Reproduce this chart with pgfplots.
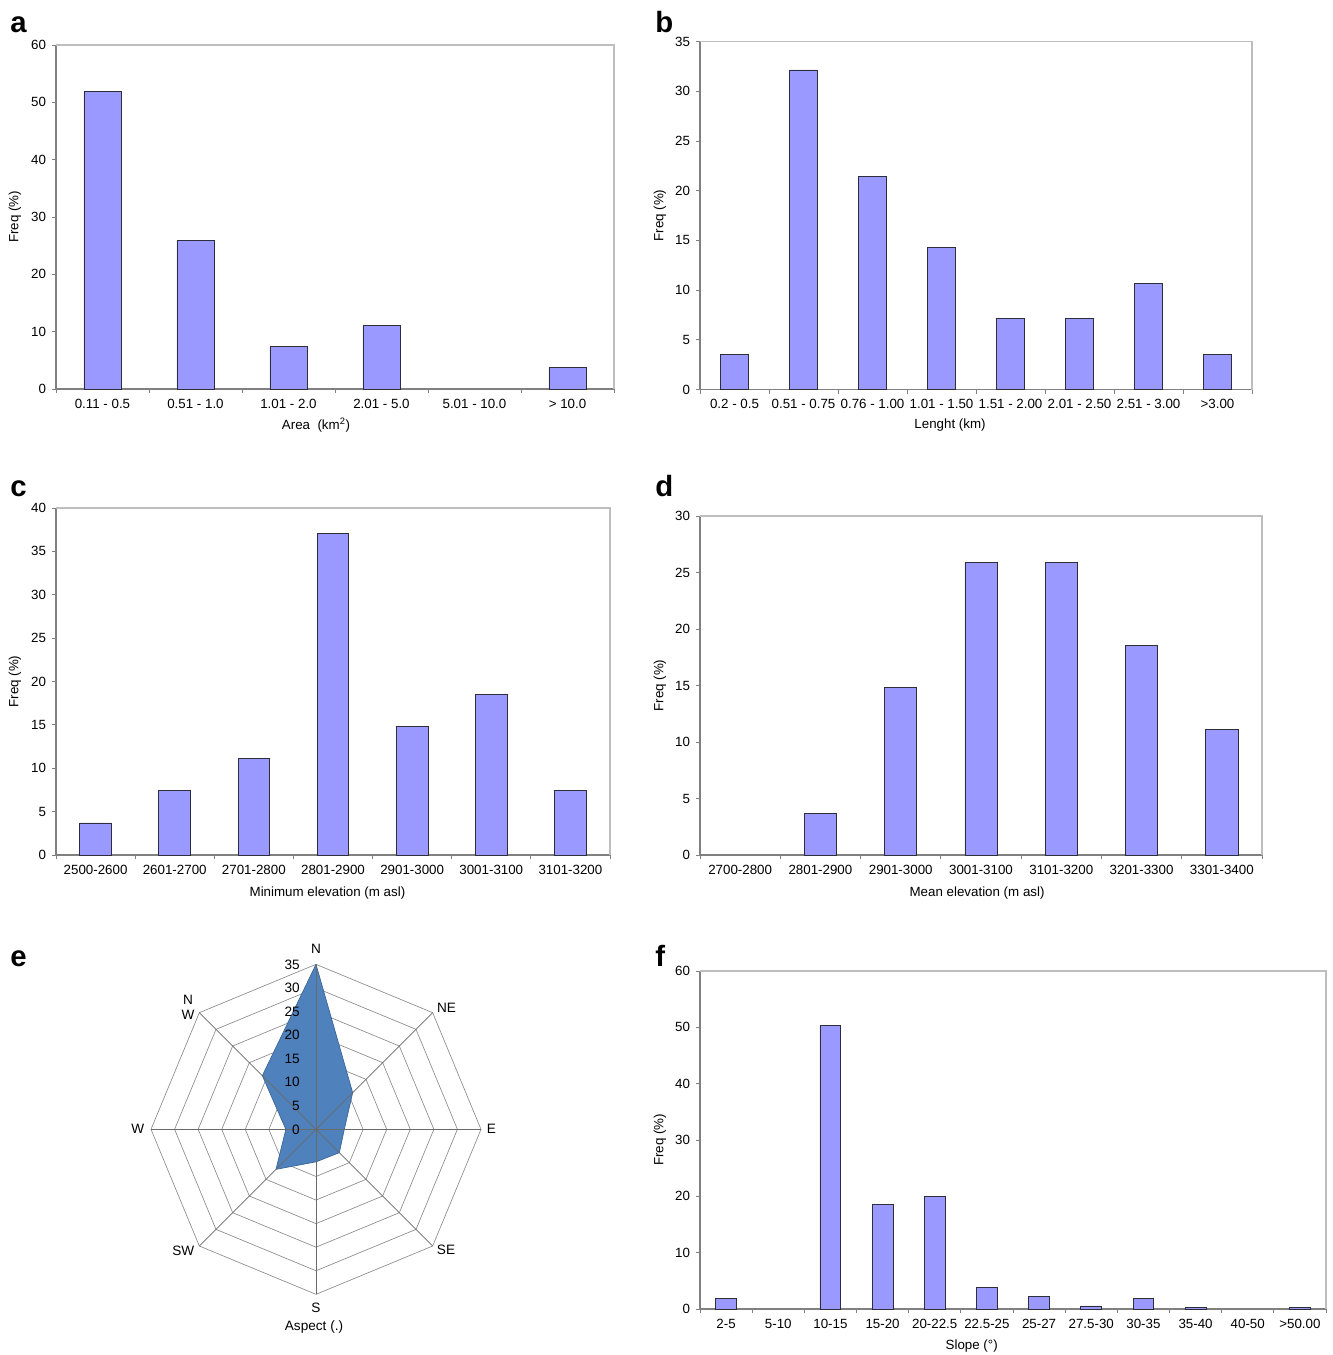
\documentclass[border=0pt]{standalone}
\usepackage{fontspec}
\setmainfont{Liberation Sans}
\usepackage{pgfplots}
\pgfplotsset{compat=1.18}
\usepgfplotslibrary{polar}
\definecolor{barfill}{HTML}{9999FF}
\definecolor{bardraw}{HTML}{2E2E3A}
\definecolor{axgray}{HTML}{808080}
\definecolor{bordergray}{HTML}{BEBEBE}
\definecolor{radarfill}{HTML}{4F81BD}
\definecolor{radardraw}{HTML}{3A6496}
\definecolor{ringgray}{HTML}{8C8C8C}
\definecolor{spokegray}{HTML}{6A6A6A}
\newcommand{\tfont}{\fontsize{10}{11.5}\selectfont}
\pgfplotsset{
  histo/.style={
    scale only axis,
    anchor=south west,
    ybar, bar width=0.4,
    ymin=0, xmin=-0.5,
    enlargelimits=false,
    axis x line*=bottom, axis y line*=left,
    axis line style={-, axgray, line width=0.8pt},
    tick align=outside,
    tick style={axgray, line width=0.6pt},
    major x tick style={draw=none},
    major tick length=3pt,
    minor tick length=3pt,
    tick label style={font=\tfont},
    label style={font=\tfont},
    /pgf/number format/assume math mode=true,
    xticklabel style={yshift=-1pt},
    yticklabel style={xshift=-1pt},
    extra description/.code={\draw[bordergray, line width=0.8pt] (axis description cs:0,1) -- (axis description cs:1,1) -- (axis description cs:1,0);},
    ylabel={Freq (\%)},
  },
  bars/.style={fill=barfill, draw=bardraw, line width=0.6pt},
}
\begin{document}
\begin{tikzpicture}
\path[use as bounding box] (0,0) rectangle (999.75pt,-1016.25pt);

% ---- a ---- (5.01 - 10.0 has 0 %, no bar drawn)
\begin{axis}[histo, at={(42pt,-291.75pt)}, width=418.5pt, height=258pt,
  xmax=5.5, ymax=60, ytick={0,10,...,60},
  xtick={0,...,5}, minor xtick={-0.5,0.5,...,5.5},
  xticklabels={0.11 - 0.5, 0.51 - 1.0, 1.01 - 2.0, 2.01 - 5.0, 5.01 - 10.0, > 10.0},
  xlabel={Area\ \ (km\textsuperscript{2})},
  xlabel style={at={(axis description cs:0.466,-0.1047)}, anchor=center},
  ylabel style={at={(axis description cs:-0.0735,0.5)}, anchor=center}]
\addplot[bars] coordinates {(0,51.85) (1,25.93) (2,7.41) (3,11.11) (5,3.70)};
\end{axis}

% ---- b ----
\begin{axis}[histo, at={(525pt,-292.125pt)}, width=414pt, height=261pt,
  xmax=7.5, ymax=35, ytick={0,5,...,35},
  xtick={0,...,7}, minor xtick={-0.5,0.5,...,7.5},
  xticklabels={0.2 - 0.5, 0.51 - 0.75, 0.76 - 1.00, 1.01 - 1.50, 1.51 - 2.00, 2.01 - 2.50, 2.51 - 3.00, >3.00},
  xlabel={Lenght (km)},
  xlabel style={at={(axis description cs:0.453,-0.1034)}, anchor=center},
  ylabel style={at={(axis description cs:-0.0725,0.5)}, anchor=center}]
\addplot[bars] coordinates {(0,3.57) (1,32.14) (2,21.43) (3,14.29) (4,7.14) (5,7.14) (6,10.71) (7,3.57)};
\end{axis}

% ---- c ----
\begin{axis}[histo, at={(42pt,-641.25pt)}, width=415.5pt, height=260.25pt,
  xmax=6.5, ymax=40, ytick={0,5,...,40},
  xtick={0,...,6}, minor xtick={-0.5,0.5,...,6.5},
  xticklabels={2500-2600, 2601-2700, 2701-2800, 2801-2900, 2901-3000, 3001-3100, 3101-3200},
  xlabel={Minimum elevation (m asl)},
  xlabel style={at={(axis description cs:0.49,-0.1095)}, anchor=center},
  ylabel style={at={(axis description cs:-0.074,0.5)}, anchor=center}]
\addplot[bars] coordinates {(0,3.70) (1,7.41) (2,11.11) (3,37.04) (4,14.81) (5,18.52) (6,7.41)};
\end{axis}

% ---- d ---- (2700-2800 has 0 %, no bar drawn)
\begin{axis}[histo, at={(525pt,-641.25pt)}, width=421.5pt, height=254.25pt,
  xmax=6.5, ymax=30, ytick={0,5,...,30},
  xtick={0,...,6}, minor xtick={-0.5,0.5,...,6.5},
  xticklabels={2700-2800, 2801-2900, 2901-3000, 3001-3100, 3101-3200, 3201-3300, 3301-3400},
  xlabel={Mean elevation (m asl)},
  xlabel style={at={(axis description cs:0.493,-0.112)}, anchor=center},
  ylabel style={at={(axis description cs:-0.0712,0.5)}, anchor=center}]
\addplot[bars] coordinates {(1,3.70) (2,14.81) (3,25.93) (4,25.93) (5,18.52) (6,11.11)};
\end{axis}

% ---- f ---- (5-10 and 40-50 have 0 %, no bar drawn)
\begin{axis}[histo, at={(525pt,-981.75pt)}, width=469.5pt, height=253.5pt,
  xmax=11.5, ymax=60, ytick={0,10,...,60},
  xtick={0,...,11}, minor xtick={-0.5,0.5,...,11.5},
  xticklabels={2-5, 5-10, 10-15, 15-20, 20-22.5, 22.5-25, 25-27, 27.5-30, 30-35, 35-40, 40-50, >50.00},
  xlabel={Slope (°)},
  xlabel style={at={(axis description cs:0.434,-0.1095)}, anchor=center},
  ylabel style={at={(axis description cs:-0.064,0.5)}, anchor=center}]
\addplot[bars] coordinates {(0,1.83) (2,50.3) (3,18.6) (4,19.95) (5,3.75) (6,2.25) (7,0.55) (8,1.95) (9,0.3) (11,0.3)};
\end{axis}

% ---- e (radar) ----
\begin{polaraxis}[at={(237pt,-847pt)}, anchor=center, scale only axis,
  width=247.5pt, height=247.5pt, xmin=0, xmax=360, ymin=0, ymax=35,
  hide axis, clip=false]
\foreach \r in {5,10,...,35}{
  \addplot[ringgray, line width=0.5pt, mark=none] coordinates {(90,\r) (45,\r) (0,\r) (315,\r) (270,\r) (225,\r) (180,\r) (135,\r) (90,\r)};
}
\addplot[fill=radarfill, draw=radardraw, line width=0.5pt, mark=none] coordinates {(90,35) (45,11) (0,6) (315,7) (270,6.9) (225,12) (180,6.4) (135,16.1) (90,35)};
\foreach \a in {0,45,...,315}{
  \addplot[spokegray, line width=0.5pt, mark=none] coordinates {(\a,0) (\a,35)};
}
\foreach \v in {0,5,...,35}{
  \edef\temp{\noexpand\node[anchor=east, inner sep=0pt, font=\noexpand\fontsize{10.2}{12}\noexpand\selectfont] at (axis cs:90,\v) [xshift=-12pt] {\v};}
  \temp
}
\end{polaraxis}

\begin{scope}[x=0.75pt, y=-0.75pt, every node/.style={font=\fontsize{10.2}{12}\selectfont, inner sep=0pt}]
\node at (316,949) {N};
\node at (446.5,1007.5) {NE};
\node at (491.5,1129.3) {E};
\node at (446,1250) {SE};
\node at (316,1308) {S};
\node at (183.3,1250.7) {SW};
\node at (137.7,1129.3) {W};
\node at (188,999.5) {N};
\node at (188,1015) {W};
\node at (314,1327) {Aspect (.)};
\end{scope}

\begin{scope}[x=0.75pt, y=-0.75pt, every node/.style={font=\fontsize{22}{24}\selectfont\bfseries, inner sep=0pt, anchor=base west}]
\node at (10,33) {a};
\node at (655,33) {b};
\node at (10,496) {c};
\node at (655,496) {d};
\node at (10,966) {e};
\node at (655,966) {f};
\end{scope}
\end{tikzpicture}
\end{document}
